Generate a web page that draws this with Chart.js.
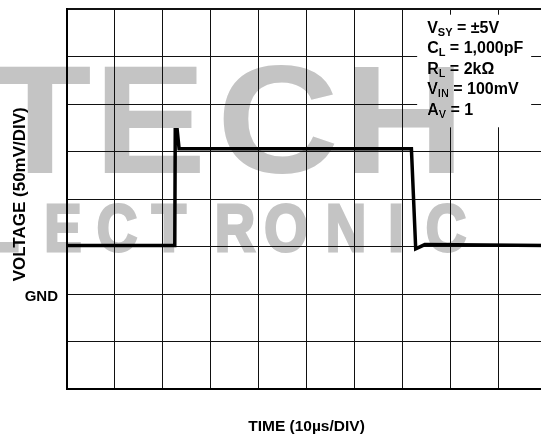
<!DOCTYPE html>
<html>
<head>
<meta charset="utf-8">
<script src="https://cdn.jsdelivr.net/npm/chart.js@4.4.1/dist/chart.umd.min.js"></script>
<style>
    html, body { margin: 0; padding: 0; background: #fff; overflow: hidden; }
    #wrap { width: 560px; height: 438px; }
</style>
</head>
<body>
<div id="wrap"><canvas id="scope" width="560" height="438"></canvas></div>
<script>
// trace, in divisions (x: 10us/div, y: 50mV/div, 0 = GND)
const timeDiv = [0, 2.25, 2.26, 2.30, 2.34, 7.19, 7.28, 7.47, 10];
const voltDiv = [1.02, 1.02, 3.46, 3.46, 3.06, 3.06, 0.95, 1.04, 1.02];

// test conditions: [main, subscript, rest]
const conditions = [
    ["V", "SY", " = ±5V"],
    ["C", "L", " = 1,000pF"],
    ["R", "L", " = 2kΩ"],
    ["V", "IN", " = 100mV"],
    ["A", "V", " = 1"]
];

const yTitle = "\u00a0\u00a0VOLTAGE (50mV/DIV)";
const xTitle = "TIME (10µs/DIV)";
const gndLabel = "GND";

const FONT = "'Liberation Sans', Arial, sans-serif";

const notesBox = {
    id: "notesBox",
    beforeDatasetsDraw(chart) {
        const { ctx, scales: { x, y } } = chart;
        const left = x.getPixelForValue(7.31);
        const right = x.getPixelForValue(9.69);
        const top = y.getPixelForValue(5.88);
        const bottom = y.getPixelForValue(3.51);

        ctx.save();
        ctx.fillStyle = "#fff";
        ctx.fillRect(left, top, right - left, bottom - top);

        ctx.fillStyle = "#000";
        ctx.textBaseline = "alphabetic";
        ctx.textAlign = "left";
        conditions.forEach((line, i) => {
            const base = top + 18 + i * 20.5;
            let cx = left + 10;
            ctx.font = `bold 16px ${FONT}`;
            ctx.fillText(line[0], cx, base);
            cx += ctx.measureText(line[0]).width;
            ctx.font = `bold 11px ${FONT}`;
            ctx.fillText(line[1], cx, base + 3);
            cx += ctx.measureText(line[1]).width;
            ctx.font = `bold 16px ${FONT}`;
            ctx.fillText(line[2], cx, base);
        });
        ctx.restore();
    }
};

// the grey "TECH ELECTRONIC" stamp lying over the scan
const stamp = {
    id: "stamp",
    afterDraw(chart) {
        const ctx = chart.ctx;
        ctx.save();
        ctx.globalCompositeOperation = "darken";
        ctx.fillStyle = "#c4c4c4";
        ctx.strokeStyle = "#c4c4c4";
        ctx.textAlign = "center";
        ctx.textBaseline = "alphabetic";

        ctx.font = `bold 154px ${FONT}`;
        [["T", 40], ["E", 150], ["C", 278], ["H", 404]].forEach(([ch, cx]) => {
            ctx.save();
            ctx.translate(cx, 173);
            ctx.scale(1.1, 1);
            ctx.fillText(ch, 0, 0);
            ctx.restore();
        });

        ctx.font = `bold 66px ${FONT}`;
        ctx.lineWidth = 3;
        [["E", -50], ["L", 2], ["E", 63], ["C", 117], ["T", 169], ["R", 235],
         ["O", 286], ["N", 346], ["I", 396], ["C", 446]].forEach(([ch, cx]) => {
            ctx.save();
            ctx.translate(cx, 251);
            ctx.scale(0.85, 1);
            ctx.fillText(ch, 0, 0);
            ctx.strokeText(ch, 0, 0);
            ctx.restore();
        });
        ctx.restore();
    }
};

const points = timeDiv.map((t, i) => ({ x: t, y: voltDiv[i] }));

new Chart(document.getElementById("scope"), {
    type: "scatter",
    data: {
        datasets: [{
            data: points,
            showLine: true,
            borderColor: "#000",
            borderWidth: 3.5,
            pointRadius: 0,
            tension: 0
        }]
    },
    options: {
        responsive: false,
        animation: false,
        layout: { padding: { top: 9, right: 14, left: 0, bottom: 0 } },
        plugins: {
            legend: { display: false },
            tooltip: { enabled: false }
        },
        scales: {
            x: {
                type: "linear",
                min: 0,
                max: 10,
                ticks: { stepSize: 1, display: false },
                grid: { color: "#111", lineWidth: 1, drawTicks: false },
                border: { color: "#000", width: 2 },
                title: {
                    display: true,
                    text: xTitle,
                    color: "#000",
                    font: { family: FONT, size: 15.5, weight: "bold" },
                    padding: { top: 0, bottom: 2 }
                },
                afterFit: scale => { scale.height = 49; }
            },
            y: {
                min: -2,
                max: 6,
                ticks: {
                    stepSize: 1,
                    color: "#000",
                    padding: 9,
                    labelOffset: 3,
                    font: { family: FONT, size: 15, weight: "bold" },
                    callback: v => (v === 0 ? gndLabel : "")
                },
                grid: {
                    color: "#111",
                    lineWidth: c => (c.tick && c.tick.value === 6 ? 2 : 1),
                    drawTicks: false
                },
                border: { color: "#000", width: 2 },
                title: {
                    display: true,
                    text: yTitle,
                    color: "#000",
                    font: { family: FONT, size: 17, weight: "bold" },
                    padding: { top: 10, bottom: 0 }
                },
                afterFit: scale => {
                    scale.width = 67;
                    scale.paddingTop = 0;
                    scale.paddingBottom = 0;
                }
            }
        }
    },
    plugins: [notesBox, stamp]
});
</script>
</body>
</html>
